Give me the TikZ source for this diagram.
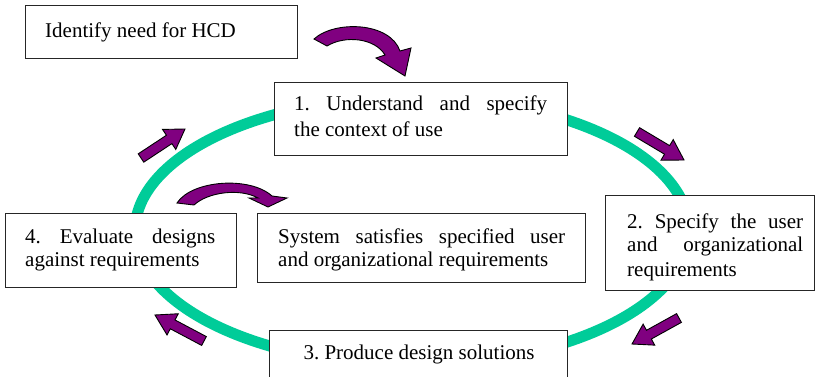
\documentclass[tikz,border=0pt]{standalone}
\usepackage{fontspec}
\setmainfont{Liberation Serif}
\usetikzlibrary{calc}
\definecolor{ringgreen}{RGB}{0,204,153}
\definecolor{arrowpurple}{RGB}{128,0,128}
\newcommand{\blockarr}[2]{%
  \coordinate (hb) at ($(#1)!0.64!(#2)$);
  \path[blockarrow] ($(#1)!5pt!90:(#2)$) -- ($(hb)!5pt!90:(#2)$) -- ($(hb)!12pt!90:(#2)$)
    -- (#2) -- ($(hb)!12pt!-90:(#2)$) -- ($(hb)!5pt!-90:(#2)$) -- ($(#1)!5pt!-90:(#2)$) -- cycle;}
\begin{document}
\frenchspacing
\begin{tikzpicture}[x=1pt,y=-1pt,
  frame/.style={draw=black!85, line width=1.1pt, fill=white, rectangle, inner sep=0pt, anchor=north west},
  txt/.style={inner sep=0pt, anchor=base west, font=\fontsize{21}{24}\selectfont\frenchspacing, align=justify},
  plaintxt/.style={inner sep=0pt, font=\fontsize{21}{24}\selectfont\frenchspacing},
  blockarrow/.style={fill=arrowpurple, draw=black, line width=0.9pt, line join=miter}
]
\useasboundingbox (0,0) rectangle (817,377);
\clip (0,0) rectangle (817,377);
\fill[white] (0,0) rectangle (817,377);
% ring
\draw[ringgreen, line width=11pt] (412,231) ellipse [x radius=277, y radius=134];
% straight arrows
\coordinate (a1t) at (141,158); \coordinate (a1h) at (185,129);
\coordinate (a2t) at (637,132); \coordinate (a2h) at (684,160);
\coordinate (a3t) at (679,318); \coordinate (a3h) at (632,344);
\coordinate (a4t) at (204,341); \coordinate (a4h) at (155,315);
\blockarr{a1t}{a1h}
\blockarr{a2t}{a2h}
\blockarr{a3t}{a3h}
\blockarr{a4t}{a4h}
% curved arrows
\path[blockarrow] (314,39) .. controls (335,20) and (390,22) .. (400,51) -- (411,48) -- (405,76) -- (376,58) -- (385,55) .. controls (375,38) and (345,35) .. (327,46) -- cycle;
\path[blockarrow] (177,203) .. controls (192,180) and (250,176) .. (272,196) -- (287,198) -- (268,207) -- (249,198) -- (258,198) .. controls (240,188) and (208,192) .. (194,205) -- cycle;
% frames
\node[frame, minimum width=272, minimum height=53] (fI) at (25,5) {};
\node[frame, minimum width=293, minimum height=73] (f1) at (274,82) {};
\node[frame, minimum width=209, minimum height=95] (f2) at (605,195) {};
\node[frame, minimum width=231, minimum height=74] (f4) at (5,213) {};
\node[frame, minimum width=328, minimum height=69] (fS) at (257,213) {};
\node[frame, minimum width=298, minimum height=60] (f3) at (269,330) {};
% texts
\node[plaintxt, anchor=base west] (tI) at (45,38) {Identify need for HCD};
\node[txt, text width=253, font=\fontsize{21}{26}\selectfont] (t1) at (294,111) {1. Understand and specify\linebreak the context of use};
\node[txt, text width=176] (t2) at (627,228) {2. Specify the user\linebreak and organizational\linebreak requirements};
\node[txt, text width=190] (t4) at (25,243) {4. Evaluate designs\linebreak against requirements};
\node[txt, text width=287] (tS) at (278,243) {System satisfies specified user\linebreak and organizational requirements};
\node[plaintxt, anchor=base] (t3) at (419,359) {3. Produce design solutions};
\end{tikzpicture}
\end{document}
